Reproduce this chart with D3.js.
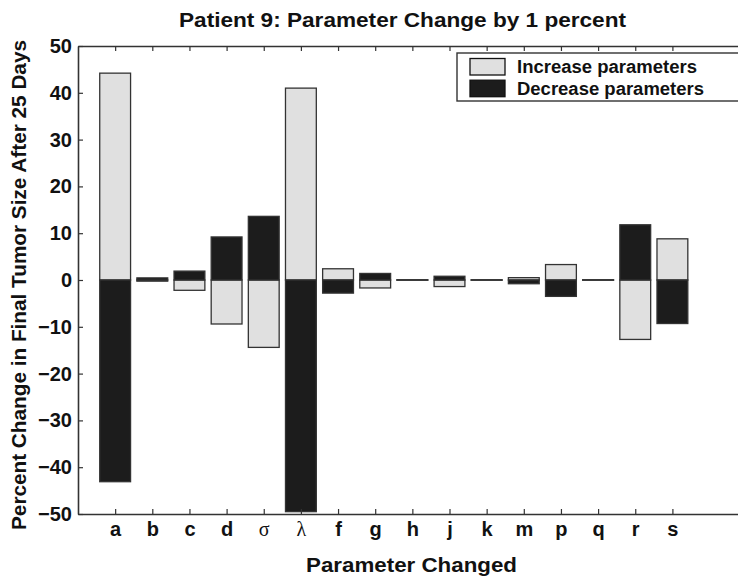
<!DOCTYPE html>
<html>
<head>
<meta charset="utf-8">
<script src="https://cdn.jsdelivr.net/npm/d3@7/dist/d3.min.js"></script>
<style>
  html, body { margin: 0; padding: 0; background: #fff; }
  svg { display: block; }
  text { font-family: "Liberation Sans", Arial, Helvetica, sans-serif; fill: #111; }
</style>
</head>
<body>
<script>
// Parameters varied by 1 percent, and the resulting percent change in tumor size
const params = ["a", "b", "c", "d", "σ", "λ", "f", "g", "h", "j", "k", "m", "p", "q", "r", "s"];
const greekParams = ["σ", "λ"];
const increaseValues = [44.2, -0.25, -2.2, -9.4, -14.4, 41.0, 2.4, -1.7, -0.05, -1.4, -0.05, 0.5, 3.3, -0.05, -12.7, 8.8];
const decreaseValues = [-43.1, 0.45, 1.9, 9.2, 13.6, -49.5, -2.8, 1.4, 0.05, 0.8, 0.05, -0.8, -3.5, 0.05, 11.8, -9.3];
const yTicks = [-50, -40, -30, -20, -10, 0, 10, 20, 30, 40, 50];
const seriesNames = ["Increase parameters", "Decrease parameters"];

const W = 738, H = 579;
const plotLeft = 78, plotTop = 46, plotBottom = 514, step = 37.15;
const lightFill = "#e0e0e0", darkFill = "#1c1c1c", edge = "#333";

const svg = d3.select("body").append("svg").attr("width", W).attr("height", H);

const x = d3.scaleLinear().domain([0, 18]).range([plotLeft, plotLeft + 18 * step]);
const y = d3.scaleLinear().domain([-50, 50]).range([plotBottom, plotTop]);
const barW = step * 0.83;

// bars: each parameter gets an increase bar and a decrease bar, both drawn from zero
const rows = params.map((p, i) => ({ p, pos: i + 1, inc: increaseValues[i], dec: decreaseValues[i] }));

function drawBars(key, fill) {
  svg.append("g").selectAll("rect").data(rows).join("rect")
    .attr("x", d => x(d.pos) - barW / 2)
    .attr("width", barW)
    .attr("y", d => Math.min(y(0), y(d[key])))
    .attr("height", d => Math.abs(y(d[key]) - y(0)))
    .attr("fill", fill)
    .attr("stroke", edge)
    .attr("stroke-width", 1.3);
}
drawBars("inc", lightFill);
drawBars("dec", darkFill);

// axes with inward ticks
const axisStyle = g => {
  g.select(".domain").attr("stroke", edge).attr("stroke-width", 1.6);
  g.selectAll(".tick line").attr("stroke", edge).attr("stroke-width", 1.2);
};

const gx = svg.append("g").attr("transform", `translate(0,${plotBottom})`)
  .call(d3.axisBottom(x).tickValues(d3.range(1, params.length + 1))
    .tickFormat(i => params[i - 1]).tickSize(-5).tickSizeOuter(0).tickPadding(8))
  .call(axisStyle);
gx.selectAll(".tick text")
  .attr("font-size", 20)
  .attr("font-weight", d => greekParams.includes(params[d - 1]) ? "normal" : "bold")
  .style("font-family", d => greekParams.includes(params[d - 1]) ? "'Liberation Serif', 'Times New Roman', serif" : null)
  .attr("fill", d => greekParams.includes(params[d - 1]) ? "#333" : "#111");

svg.append("g").attr("transform", `translate(0,${plotTop})`)
  .call(d3.axisTop(x).tickValues(d3.range(1, params.length + 1))
    .tickFormat("").tickSize(-5).tickSizeOuter(0))
  .call(axisStyle);

const gy = svg.append("g").attr("transform", `translate(${plotLeft},0)`)
  .call(d3.axisLeft(y).tickValues(yTicks).tickSize(-5).tickSizeOuter(0).tickPadding(6))
  .call(axisStyle);
gy.selectAll(".tick text").attr("font-size", 20).attr("font-weight", "bold").attr("fill", "#111");

// titles
svg.append("text").attr("x", 179).attr("y", 27)
  .attr("font-size", 21).attr("font-weight", "bold")
  .attr("textLength", 447).attr("lengthAdjust", "spacingAndGlyphs")
  .text("Patient 9: Parameter Change by 1 percent");

svg.append("text").attr("x", 306).attr("y", 572)
  .attr("font-size", 21).attr("font-weight", "bold")
  .attr("textLength", 211).attr("lengthAdjust", "spacingAndGlyphs")
  .text("Parameter Changed");

svg.append("text").attr("transform", "translate(26,530) rotate(-90)")
  .attr("font-size", 19.5).attr("font-weight", "bold")
  .attr("textLength", 490).attr("lengthAdjust", "spacingAndGlyphs")
  .text("Percent Change in Final Tumor Size After 25 Days");

// legend
const leg = svg.append("g");
leg.append("rect").attr("x", 457).attr("y", 53).attr("width", 300).attr("height", 48)
  .attr("fill", "#fff").attr("stroke", edge).attr("stroke-width", 1.4);
const legendWidths = [180, 187];
[lightFill, darkFill].forEach((c, i) => {
  leg.append("rect").attr("x", 470).attr("y", 58.5 + i * 21.7).attr("width", 35).attr("height", 16.5)
    .attr("fill", c).attr("stroke", "#111").attr("stroke-width", 1.3);
  leg.append("text").attr("x", 517).attr("y", 73.3 + i * 21.7)
    .attr("font-size", 17.5).attr("font-weight", "bold")
    .attr("textLength", legendWidths[i]).attr("lengthAdjust", "spacingAndGlyphs")
    .text(seriesNames[i]);
});
</script>
</body>
</html>
